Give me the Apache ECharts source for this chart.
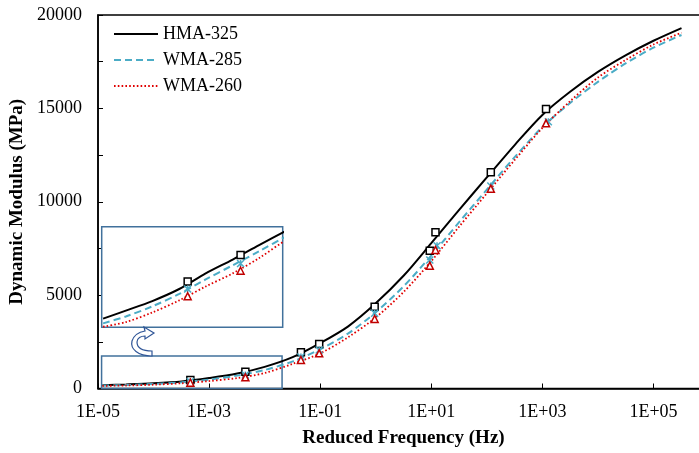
<!DOCTYPE html>
<html>
<head>
<meta charset="utf-8">
<script src="https://cdn.jsdelivr.net/npm/echarts@6/dist/echarts.min.js"></script>
<style>
html,body{margin:0;padding:0;background:#fff;}
#chart{width:699px;height:453px;}
</style>
</head>
<body>
<div id="chart"></div>
<script>
// ---- Data ----
const seriesNames = ['HMA-325', 'WMA-285', 'WMA-260'];

// Master-curve sample frequencies (Hz)
const curveFreq = [1.2e-5, 3.2e-5, 1e-4, 3.2e-4, 1e-3, 3.2e-3, 1e-2, 3.2e-2, 0.1, 0.32, 1, 3.2,
                   10, 32, 100, 320, 1000, 3200, 1e4, 3.2e4, 1e5, 3.2e5];
// Master curves, dynamic modulus (MPa)
const hmaCurve    = [175, 215, 275, 375, 560, 800, 1160, 1680, 2430, 3330, 4560, 6050,
                     7780, 9580, 11300, 13050, 14650, 15900, 16950, 17850, 18620, 19300];
const wma285Curve = [155, 185, 240, 330, 480, 690, 990, 1450, 2100, 2950, 4080, 5480,
                     7120, 8920, 10650, 12400, 14000, 15300, 16420, 17420, 18250, 18930];
const wma260Curve = [142, 160, 205, 280, 400, 560, 830, 1320, 1880, 2750, 3800, 5180,
                     6820, 8680, 10450, 12250, 13950, 15400, 16650, 17600, 18420, 19050];

// Measured points
const hmaFreq      = [4.6e-4, 4.5e-3, 0.045, 0.096, 0.957, 9.4, 11.9, 118, 1164];
const hmaMeas      = [455, 900, 1939, 2383, 4380, 7379, 8365, 11577, 14967];
const wma285Freq   = [4.6e-4, 4.5e-3, 0.045, 0.096, 0.957, 9.4, 12.7, 118, 1283];
const wma285Meas   = [375, 723, 1687, 2062, 4027, 6881, 7647, 10844, 14287];
const wma260Freq   = [4.6e-4, 4.5e-3, 0.045, 0.096, 0.957, 9.4, 11.9, 118, 1164];
const wma260Meas   = [311, 600, 1526, 1885, 3722, 6576, 7417, 10699, 14201];

// Axis ticks
const xTickValues = [1e-5, 1e-3, 1e-1, 1e1, 1e3, 1e5];
const xRange = [1e-5, 1e6];
const yRange = [0, 20000];

// Zoom box (main chart) and inset ranges
const zoomBoxX = [1.16e-5, 0.0206];
const zoomBoxY = [0, 1740];
const insetX = [1.13e-5, 0.02767];
const insetY = [140, 1862];

// ---- Build ----
const pairs = (xs, ys) => xs.map((x, i) => [x, ys[i]]);
const font = 'Liberation Serif, Times New Roman, serif';
const cBlack = '#000000', cCyan = '#4bacc6', cRed = '#e00000', cRedMk = '#c00000';
const starPath = 'path://M0,0L10,10M10,0L0,10M5,0L5,10';

function fmtE(v) {
  const e = Math.round(Math.log10(v));
  return '1E' + (e < 0 ? '-' : '+') + String(Math.abs(e)).padStart(2, '0');
}

function lineSeries(name, data, color, type, width, xi, yi) {
  return {
    name: name, type: 'line', data: data, xAxisIndex: xi, yAxisIndex: yi,
    smooth: 0.3, symbol: 'none', clip: true,
    lineStyle: { color: color, width: width, type: type },
    itemStyle: { color: color }, z: 3
  };
}
function markSeries(name, data, symbol, size, fill, stroke, xi, yi, z) {
  return {
    name: name, type: 'scatter', data: data, xAxisIndex: xi, yAxisIndex: yi,
    symbol: symbol, symbolSize: size, clip: true,
    itemStyle: { color: fill, borderColor: stroke, borderWidth: 1.5, opacity: 1 },
    z: z
  };
}

const hmaLine = pairs(curveFreq, hmaCurve);
const w285Line = pairs(curveFreq, wma285Curve);
const w260Line = pairs(curveFreq, wma260Curve);
const hmaPts = pairs(hmaFreq, hmaMeas);
const w285Pts = pairs(wma285Freq, wma285Meas);
const w260Pts = pairs(wma260Freq, wma260Meas);

const series = [];
[0, 1].forEach(function (g) {
  const sfx = g === 0 ? '' : ' (inset)';
  const h = lineSeries(seriesNames[0] + sfx, hmaLine, cBlack, 'solid', 2, g, g);
  const c = lineSeries(seriesNames[1] + sfx, w285Line, cCyan, [7, 4], 2, g, g);
  const r = lineSeries(seriesNames[2] + sfx, w260Line, cRed, [1.6, 2.2], 1.8, g, g);
  if (g === 0) {
    r.markArea = {
      silent: true,
      itemStyle: { color: 'rgba(0,0,0,0)', borderColor: '#41719c', borderWidth: 1.5 },
      data: [[{ coord: [zoomBoxX[0], zoomBoxY[0]] }, { coord: [zoomBoxX[1], zoomBoxY[1]] }]]
    };
  }
  series.push(h, c, r);
  series.push(markSeries('HMA-325 data' + sfx, hmaPts, 'rect', 7, '#fff', cBlack, g, g, 5));
  series.push(markSeries('WMA-285 data' + sfx, w285Pts, starPath, 7, cCyan, cCyan, g, g, 6));
  series.push(markSeries('WMA-260 data' + sfx, w260Pts, 'triangle', 7, '#fff', cRedMk, g, g, 7));
});

// curved arrow decoration
const arrowPathData = 'M152,356 C138,356 130,349 132,341 C134,335 139,332 145,331 L144,327 L154,333 L145,339 L145,336 C141,336 137,338 137,342 C137,348 142,351 152,351 Z';
let graphicEls = [];
try {
  const ArrowShape = echarts.graphic.extendPath(arrowPathData, {});
  echarts.graphic.registerShape('curvedArrow', ArrowShape);
  graphicEls = [{ type: 'curvedArrow', shape: {}, style: { fill: '#fff', stroke: '#2f5597', lineWidth: 1.2 }, z: 10 }];
} catch (e) { graphicEls = []; }

const chart = echarts.init(document.getElementById('chart'), null, { renderer: 'canvas' });
chart.setOption({
  animation: false,
  backgroundColor: '#fff',
  textStyle: { fontFamily: font, color: '#000' },
  legend: {
    data: seriesNames,
    orient: 'vertical', left: 108, top: 20,
    itemWidth: 44, itemHeight: 14, itemGap: 8,
    itemStyle: { color: 'rgba(0,0,0,0)', borderWidth: 0, opacity: 0 },
    textStyle: { fontFamily: font, fontSize: 18, color: '#000' }
  },
  graphic: graphicEls,
  grid: [
    { left: 98, top: 15, width: 611, bottom: 64.5, outerBoundsMode: 'none', containLabel: false,
      show: true, borderColor: '#000', borderWidth: 1.5, backgroundColor: 'rgba(0,0,0,0)' },
    { left: 101.7, top: 226.7, width: 181, height: 100.6, outerBoundsMode: 'none', containLabel: false,
      show: true, borderColor: '#41719c', borderWidth: 1.5, backgroundColor: '#fff', z: 1 }
  ],
  xAxis: [
    {
      type: 'log', logBase: 10, min: xRange[0], max: xRange[1], gridIndex: 0,
      name: 'Reduced Frequency (Hz)', nameLocation: 'middle', nameGap: 40,
      nameTextStyle: { fontFamily: font, fontSize: 19, fontWeight: 'bold', color: '#000' },
      axisLine: { show: true, lineStyle: { color: '#000', width: 1.5 } },
      axisTick: { show: true, inside: true, length: 5, customValues: xTickValues, lineStyle: { color: '#000', width: 1 } },
      axisLabel: { customValues: xTickValues, formatter: fmtE, margin: 15, fontFamily: font, fontSize: 18, color: '#000' },
      splitLine: { show: false }, minorTick: { show: false }, minorSplitLine: { show: false }
    },
    {
      type: 'log', logBase: 10, min: insetX[0], max: insetX[1], gridIndex: 1, show: false,
      splitLine: { show: false }
    }
  ],
  yAxis: [
    {
      type: 'value', min: yRange[0], max: yRange[1], interval: 2500, gridIndex: 0,
      name: 'Dynamic Modulus (MPa)', nameLocation: 'middle', nameGap: 65,
      nameTextStyle: { fontFamily: font, fontSize: 19, fontWeight: 'bold', color: '#000' },
      axisLine: { show: true, lineStyle: { color: '#000', width: 1.5 } },
      axisTick: { show: true, inside: true, length: 5, lineStyle: { color: '#000', width: 1 } },
      axisLabel: {
        margin: 16, fontFamily: font, fontSize: 18, color: '#000',
        formatter: function (v) { return v % 5000 === 0 ? String(v) : ''; }
      },
      splitLine: { show: false }
    },
    {
      type: 'log', logBase: 10, min: insetY[0], max: insetY[1], gridIndex: 1, show: false,
      splitLine: { show: false }
    }
  ],
  series: series
});
</script>
</body>
</html>
